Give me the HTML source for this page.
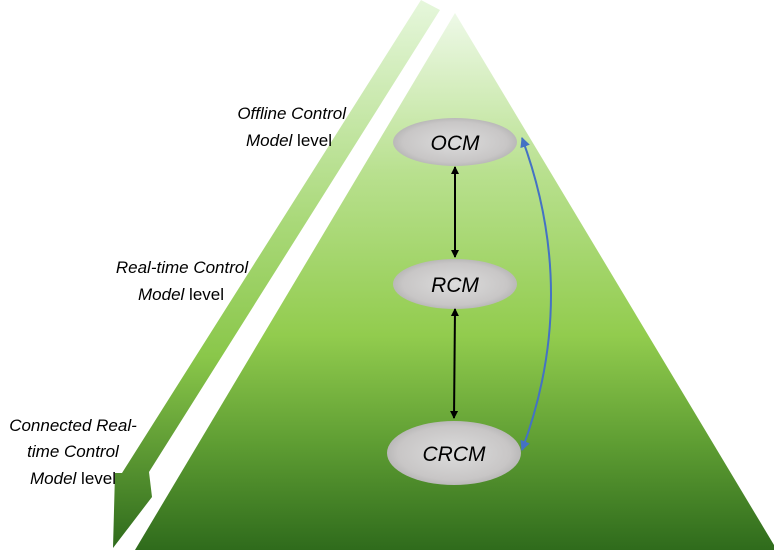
<!DOCTYPE html>
<html><head><style>
html,body{margin:0;padding:0;background:#fff;}
svg{display:block;}
text{font-family:"Liberation Sans",sans-serif;}
</style></head><body>
<svg width="774" height="550" viewBox="0 0 774 550" xmlns="http://www.w3.org/2000/svg">
<defs>
<linearGradient id="tri" x1="0" y1="0" x2="0" y2="1">
<stop offset="0" stop-color="#eef9e8"/>
<stop offset="0.3" stop-color="#b8e08e"/>
<stop offset="0.6" stop-color="#92cc4e"/>
<stop offset="0.8" stop-color="#5f9e33"/>
<stop offset="1" stop-color="#2f6b1c"/>
</linearGradient>
<linearGradient id="band" x1="0" y1="0" x2="0" y2="1">
<stop offset="0" stop-color="#e6f7dc"/>
<stop offset="0.4" stop-color="#aad97a"/>
<stop offset="0.65" stop-color="#8ac74a"/>
<stop offset="1" stop-color="#2f6b1c"/>
</linearGradient>
<radialGradient id="ell" cx="0.5" cy="0.5" r="0.6">
<stop offset="0" stop-color="#dcdcdc"/>
<stop offset="0.7" stop-color="#c8c6c6"/>
<stop offset="1" stop-color="#a8a8a8"/>
</radialGradient>
<marker id="ah" markerWidth="8" markerHeight="8" refX="7" refY="4" orient="auto-start-reverse" markerUnits="userSpaceOnUse">
<path d="M0,0 L8,4 L0,8 Z" fill="#000"/>
</marker>
<marker id="bh" markerWidth="10" markerHeight="10" refX="9" refY="5" orient="auto-start-reverse" markerUnits="userSpaceOnUse">
<path d="M0,0 L10,5 L0,10 Z" fill="#4472c4"/>
</marker>
</defs>
<polygon points="455,13 774,545 774,550 135,550" fill="url(#tri)"/>
<polygon points="421,0 440,10 149,472 152,497 113,548 115,473 122,473" fill="url(#band)"/>
<ellipse cx="455" cy="142" rx="62" ry="24" fill="url(#ell)"/>
<ellipse cx="455" cy="284" rx="62" ry="25" fill="url(#ell)"/>
<ellipse cx="454" cy="453" rx="67" ry="32" fill="url(#ell)"/>
<text x="455" y="150" font-size="21" font-style="italic" text-anchor="middle">OCM</text>
<text x="455" y="292" font-size="21" font-style="italic" text-anchor="middle">RCM</text>
<text x="454" y="461" font-size="21" font-style="italic" text-anchor="middle">CRCM</text>
<line x1="455" y1="167" x2="455" y2="257" stroke="#000" stroke-width="2" marker-start="url(#ah)" marker-end="url(#ah)"/>
<line x1="455" y1="309" x2="454" y2="418" stroke="#000" stroke-width="2" marker-start="url(#ah)" marker-end="url(#ah)"/>
<path d="M522,138 Q580,295 522,450" fill="none" stroke="#4472c4" stroke-width="2" marker-start="url(#bh)" marker-end="url(#bh)"/>
<g font-size="17" fill="#000">
<text x="346" y="119" text-anchor="end" font-style="italic">Offline Control</text>
<text x="332" y="146" text-anchor="end"><tspan font-style="italic">Model</tspan> level</text>
<text x="182" y="273" text-anchor="middle" font-style="italic">Real-time Control</text>
<text x="181" y="300" text-anchor="middle"><tspan font-style="italic">Model</tspan> level</text>
<text x="73" y="431" text-anchor="middle" font-style="italic">Connected Real-</text>
<text x="73" y="457" text-anchor="middle" font-style="italic">time Control</text>
<text x="73" y="484" text-anchor="middle"><tspan font-style="italic">Model</tspan> level</text>
</g>
</svg>
</body></html>
